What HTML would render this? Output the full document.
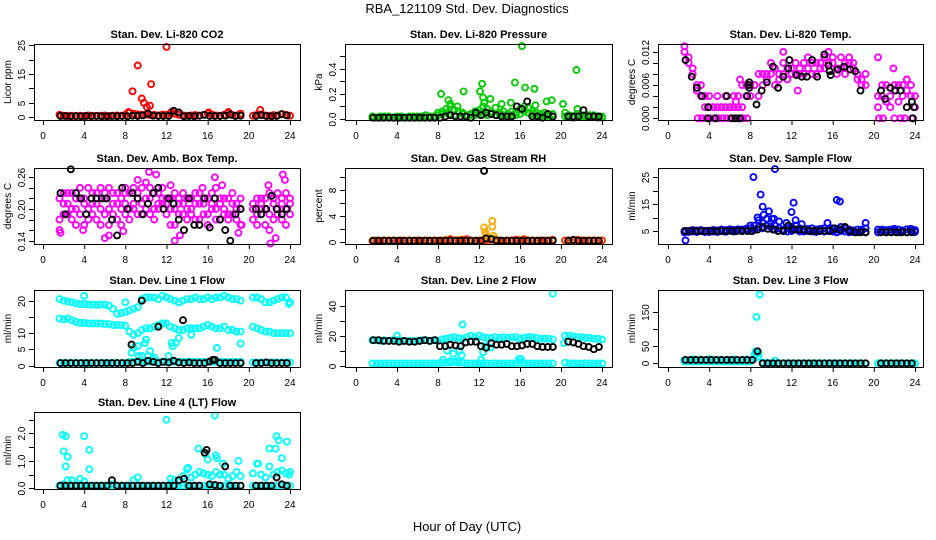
<!DOCTYPE html>
<html><head><meta charset="utf-8">
<style>
html,body{margin:0;padding:0;background:#fff;}
svg{display:block;font-family:"Liberation Sans",Arial,sans-serif;}
</style></head>
<body>
<svg id="chart" width="936" height="540" viewBox="0 0 936 540">
<text x="467" y="13" font-size="13" text-anchor="middle">RBA_121109  Std. Dev. Diagnostics</text>
<text x="467" y="531" font-size="13" text-anchor="middle">Hour of Day (UTC)</text>
</svg>
<script>
// shared time grids (hours UTC)
const T = [1.6,2.0,2.4,2.8,3.2,3.6,4.0,4.4,4.8,5.2,5.6,6.0,6.4,6.8,7.2,7.6,8.0,8.4,8.8,9.2,9.6,10.0,10.4,10.8,11.2,11.6,12.0,12.4,12.8,13.2,13.6,14.0,14.4,14.8,15.2,15.6,16.0,16.4,16.8,17.2,17.6,18.0,18.4,18.8,19.2,20.4,20.8,21.2,21.6,22.0,22.4,22.8,23.2,23.6,24.0];
const TB = [1.7,2.2,2.7,3.2,3.7,4.2,4.7,5.2,5.7,6.2,6.7,7.2,7.7,8.2,8.7,9.2,9.7,10.2,10.7,11.2,11.7,12.2,12.7,13.2,13.7,14.2,14.7,15.2,15.7,16.2,16.7,17.2,17.7,18.2,18.7,19.2,20.7,21.2,21.7,22.2,22.7,23.2,23.7];
const xTicks = [0,4,8,12,16,20,24];

// CO2
const co2Red = [0.8,0.5,0.4,0.5,0.3,0.5,0.4,0.6,0.5,0.4,0.5,0.6,0.4,0.5,0.6,0.5,0.8,1.5,1.2,1.0,0.8,0.9,0.7,0.8,0.6,0.9,0.8,1.5,1.2,0.8,0.6,0.5,0.6,0.7,0.5,0.8,1.3,0.9,0.6,0.5,0.8,1.4,0.7,0.6,1.2,0.5,0.8,1.0,0.6,0.5,0.7,0.6,1.1,0.8,0.5];
const co2OutX = [8.3,8.7,9.2,9.6,9.8,10.1,10.4,10.5,12.0,18.0,21.1,12.5,16.1];
const co2OutY = [1.8,9,18,6.5,5,3.5,4,11.5,24.5,1.8,2.5,1.8,1.6];
const co2Black = [0.4,0.4,0.3,0.4,0.3,0.4,0.3,0.4,0.3,0.3,0.4,0.3,0.4,0.3,0.5,0.4,0.6,1.2,0.5,0.4,0.4,0.4,2.2,1.6,0.3,0.4,0.3,0.5,0.8,0.4,0.4,0.4,0.5,0.9,0.4,0.5,0.4,0.7,0.4,0.3,0.4,1.0,0.6];

// Pressure
const prsA = [0.01,0.01,0.02,0.02,0.01,0.01,0.02,0.01,0.01,0.02,0.01,0.02,0.01,0.03,0.02,0.02,0.05,0.06,0.08,0.1,0.07,0.06,0.05,0.03,0.04,0.06,0.05,0.1,0.08,0.06,0.09,0.05,0.06,0.04,0.06,0.05,0.08,0.1,0.09,0.06,0.05,0.04,0.05,0.03,0.04,0.05,0.03,0.02,0.04,0.03,0.03,0.02,0.03,0.02,0.02];
const prsB = [0.02,0.01,0.01,0.01,0.02,0.01,0.01,0.02,0.01,0.01,0.02,0.01,0.02,0.01,0.01,0.01,0.03,0.04,0.05,0.04,0.03,0.06,0.04,0.02,0.03,0.03,0.07,0.04,0.03,0.04,0.03,0.04,0.03,0.02,0.03,0.03,0.04,0.06,0.05,0.04,0.03,0.02,0.03,0.02,0.02,0.02,0.02,0.01,0.03,0.02,0.02,0.03,0.02,0.01,0.01];
const prsOutX = [8.3,9.0,10.5,12.1,12.3,12.4,13.1,14.2,15.1,15.5,16.2,16.5,17.4,17.5,18.6,19.1,20.2,21.5,21.6,9.2,12.5,9.9];
const prsOutY = [0.2,0.15,0.22,0.22,0.28,0.17,0.16,0.12,0.13,0.29,0.58,0.25,0.24,0.11,0.14,0.15,0.12,0.39,0.08,0.12,0.13,0.1];
const prsBlack = [0.01,0.01,0.01,0.01,0.01,0.01,0.01,0.01,0.01,0.01,0.01,0.01,0.01,0.01,0.02,0.03,0.02,0.02,0.02,0.01,0.05,0.03,0.05,0.04,0.03,0.02,0.02,0.02,0.1,0.08,0.14,0.02,0.02,0.01,0.04,0.02,0.02,0.02,0.02,0.07,0.02,0.02,0.02];

// Li-820 Temp
const tmpA = [0.012,0.011,0.009,0.006,0.004,0.004,0.002,0.002,0.002,0.002,0.002,0.002,0.004,0.004,0.006,0.006,0.006,0.006,0.008,0.008,0.008,0.010,0.009,0.008,0.010,0.009,0.008,0.010,0.009,0.010,0.011,0.010,0.010,0.009,0.011,0.012,0.010,0.009,0.011,0.010,0.010,0.009,0.008,0.007,0.006,0.004,0.004,0.006,0.004,0.006,0.006,0.006,0.007,0.006,0.004];
const tmpB = [0.013,0.010,0.008,0.005,0.006,0.002,0.004,0.002,0.004,0.002,0.004,0.002,0.002,0.002,0.002,0.004,0.004,0.006,0.004,0.006,0.007,0.008,0.006,0.007,0.008,0.007,0.009,0.008,0.008,0.008,0.009,0.008,0.008,0.010,0.009,0.010,0.011,0.008,0.009,0.008,0.011,0.010,0.007,0.006,0.008,0.002,0.006,0.003,0.002,0.005,0.003,0.004,0.005,0.004,0.002];
const tmpOutX = [2.9,3.3,3.7,4.1,4.5,4.9,5.3,5.7,6.1,6.5,6.9,7.3,7.7,20.5,20.9,22.0,22.6,23.0,23.7,6.6,20.4,21.9,23.2,11.2,12.6,7.0];
const tmpOutY = [0,0,0,0,0,0,0,0,0,0,0,0,0,0,0,0,0,0,0,0.003,0.011,0.009,0.007,0.012,0.005,0.007];
const tmpBlackX = [1.7,2.3,2.8,3.3,3.9,3.9,4.6,5.7,6.2,6.6,7.0,7.7,7.8,7.9,7.9,8.6,9.1,9.6,10.2,10.7,11.2,11.7,11.8,12.5,13.0,13.5,14.0,14.5,15.2,15.6,15.7,15.8,16.5,17.1,17.7,18.2,18.7,20.7,21.1,21.6,22.1,22.6,23.2,23.7,23.8,23.9];
const tmpBlackY = [0.0105,0.0075,0.0055,0.004,0.002,0,0,0.004,0,0,0,0.004,0.006,0.0065,0.0055,0.0025,0.005,0.0065,0.0093,0.0055,0.0075,0.009,0.0105,0.0078,0.0075,0.0075,0.0105,0.0075,0.0115,0.0095,0.0085,0.0078,0.0088,0.0093,0.0088,0.0085,0.005,0.005,0.0035,0.0055,0.005,0.005,0.002,0.003,0,0.002];

// Amb box temp
const ambA = [0.22,0.21,0.19,0.23,0.20,0.22,0.17,0.24,0.21,0.23,0.20,0.22,0.24,0.19,0.21,0.22,0.23,0.20,0.24,0.22,0.21,0.25,0.22,0.20,0.23,0.21,0.22,0.20,0.23,0.19,0.21,0.22,0.20,0.23,0.21,0.19,0.22,0.20,0.24,0.21,0.20,0.22,0.19,0.21,0.20,0.21,0.19,0.22,0.20,0.23,0.21,0.19,0.22,0.20,0.21];
const ambB = [0.18,0.23,0.21,0.18,0.22,0.19,0.21,0.20,0.23,0.18,0.24,0.19,0.20,0.23,0.18,0.20,0.19,0.23,0.21,0.19,0.24,0.20,0.19,0.23,0.20,0.24,0.19,0.22,0.17,0.22,0.19,0.20,0.22,0.18,0.23,0.21,0.19,0.23,0.20,0.18,0.22,0.19,0.23,0.18,0.22,0.18,0.22,0.20,0.17,0.19,0.22,0.20,0.18,0.23,0.19];
const ambC = [0.16,0.19,0.23,0.20,0.17,0.24,0.22,0.18,0.19,0.21,0.17,0.23,0.17,0.21,0.23,0.17,0.21,0.18,0.20,0.23,0.19,0.22,0.24,0.18,0.21,0.22,0.21,0.17,0.20,0.21,0.23,0.18,0.19,0.21,0.18,0.22,0.17,0.21,0.18,0.22,0.19,0.18,0.21,0.20,0.17,0.20,0.17,0.21,0.22,0.16,0.18,0.23,0.21,0.17,0.22];
const ambOutX = [1.7,3.9,6.0,6.4,7.8,9.2,10.3,11.0,12.4,12.8,13.3,16.7,17.4,19.0,22.1,22.6,23.3,23.5,8.0,15.5,19.3,21.9];
const ambOutY = [0.155,0.16,0.145,0.15,0.158,0.255,0.27,0.265,0.245,0.14,0.15,0.26,0.245,0.155,0.135,0.145,0.265,0.255,0.24,0.24,0.17,0.245];
const ambBlack = [0.23,0.19,0.275,0.23,0.22,0.19,0.22,0.22,0.22,0.22,0.18,0.15,0.24,0.2,0.23,0.22,0.19,0.21,0.23,0.24,0.2,0.22,0.21,0.18,0.16,0.22,0.17,0.17,0.22,0.165,0.22,0.18,0.16,0.14,0.19,0.20,0.2,0.19,0.2,0.225,0.2,0.19,0.2];

// Gas stream RH
const rhOrange = [0.3,0.3,0.3,0.3,0.3,0.3,0.3,0.3,0.3,0.3,0.3,0.3,0.3,0.3,0.3,0.3,0.3,0.3,0.4,0.3,0.3,0.4,0.3,0.4,0.3,0.3,0.3,0.4,0.5,0.4,0.5,0.3,0.3,0.3,0.3,0.3,0.4,0.3,0.3,0.3,0.3,0.3,0.3,0.3,0.3,0.3,0.3,0.3,0.4,0.3,0.3,0.3,0.3,0.3,0.3];
const rhRed = [0.2,0.3,0.2,0.3,0.2,0.3,0.2,0.3,0.2,0.3,0.2,0.3,0.2,0.3,0.2,0.3,0.2,0.3,0.3,0.5,0.3,0.3,0.4,0.5,0.3,0.2,0.3,0.3,0.3,0.4,0.3,0.3,0.2,0.3,0.3,0.4,0.3,0.5,0.3,0.3,0.2,0.3,0.3,0.3,0.4,0.3,0.3,0.3,0.4,0.3,0.3,0.3,0.3,0.3,0.3];
const rhOutX = [12.5,12.6,12.7,13.3,13.3,13.4,12.8,13.6];
const rhOutY = [2.3,1.6,1.2,3.3,2.4,1.0,0.8,0.6];
const rhBlack = [0.25,0.25,0.25,0.25,0.25,0.25,0.25,0.25,0.25,0.25,0.25,0.25,0.25,0.25,0.25,0.25,0.25,0.25,0.25,0.25,0.25,0.25,0.6,0.5,0.3,0.25,0.25,0.25,0.25,0.25,0.25,0.25,0.25,0.25,0.25,0.25,0.25,0.35,0.25,0.25,0.25,0.25,0.25];
const rhBlackOutX = [12.5];
const rhBlackOutY = [11];

// Sample flow
const sfA = [5,5,4.8,5.2,4.9,5,5.1,4.8,5.2,5,5.3,5.1,5.4,5.2,5.5,5.3,6,7,6.5,8,7,6.5,7,6,5.5,6,6.5,7,6,5.5,5.8,6,5.5,5.8,6,5.5,6,5.5,5,6,5.5,5.2,5.5,5,6,5.5,5,5.3,5.5,5,5.5,5.2,5.6,5,5.3];
const sfB = [4.5,4.6,5.3,4.6,5.3,4.6,4.6,5.4,4.6,5.5,4.7,5.6,4.8,5.6,4.9,5.8,5,5.5,9,6,9.5,8,5.5,8.5,5,4.8,5,5.5,4.8,4.8,5,4.8,4.6,5,4.8,5,4.8,4.5,6.5,4.8,4.5,4.6,4.5,5.5,4.5,4.5,5.5,4.5,4.6,5.8,4.5,4.8,4.5,5.8,4.6];
const sfOutX = [1.7,8.3,8.7,9.0,9.2,9.3,9.8,10.1,10.4,12.0,12.2,12.4,16.4,16.7,19.2,15.5,11.5,8.0,10.3,13.0];
const sfOutY = [1.5,25,10,18.5,14,11,12.3,9.5,28,12,15.5,9,16.5,16,8,8,8,7,9.5,7.5];
const sfBlack = [5,5,5,5,5,5,5,5,5,5,5,5,5,5,5.5,6.5,5.8,5.5,5,5,7,5.5,5.5,5.5,5,5,5,5,5,6,5.5,6.5,5,4.5,4.5,4.5,4.5,4.5,4.5,4.5,4.5,4.5,4.5];

// Line 1 flow
const l1Top = [20.5,20,19.8,19.5,19.2,19,19,18.8,18.8,18.7,18.8,18.8,18.5,17.5,16,16.2,16.5,17,17.5,18,20.5,21,21,21,20.5,21.5,21,20.5,20,19.5,20,20.5,20.5,21,20.5,20.5,21,20.5,21,21,21.5,21,20.5,20.5,20,21,21,20.5,19.5,19.5,20,20.5,21,21,19.5];
const l1Mid = [14.5,14.3,14.5,14,13.5,13.2,13.2,13,13,13,13,12.8,12.8,12.5,12.5,12.5,12.3,10.5,9.5,10,11,11.5,11.5,12,12.5,13,13,12,11.5,11,11,11.5,11.5,11.5,11.5,12,12.5,12,11.5,11.5,12,11,11,10.5,10.5,12,11.5,11,10.5,10.5,10,10,10,10,10];
const l1Low = [0.8,0.8,0.8,0.8,0.8,0.8,0.8,0.8,0.8,0.8,0.8,0.8,0.8,0.8,0.8,0.8,0.8,1.2,1.2,1.2,1.2,1.2,1.2,1.2,1.2,1.2,1.2,1.2,1.2,1.2,1.2,1.2,1.2,1.2,1.2,1.2,1.2,1.2,1.2,1.2,1.2,1.2,1.2,1.2,1.2,1.0,1.0,1.0,1.0,1.0,1.0,1.0,1.0,1.0,1.0];
const l1OutX = [4.0,8.0,8.8,9.2,9.3,9.6,9.9,10.0,10.2,10.4,10.8,11.7,12.2,12.5,12.6,12.9,13.2,14.4,16.9,19.2,23.9,8.6,10.6];
const l1OutY = [21.5,19.5,5.5,6,3,3,7,8,3,4.5,2.5,13,3,7,6,7,8.5,9.5,5.5,6.8,19,4,2];
const l1Black = [0.8,0.8,0.8,0.8,0.8,0.8,0.8,0.8,0.8,0.8,0.8,0.8,0.8,0.8,0.8,1.2,0.8,1.5,1.2,0.8,1.2,1.0,1.5,1.0,0.8,1.0,0.8,0.8,0.8,1.3,1.8,0.8,0.8,0.8,0.8,0.8,0.8,0.8,1.0,0.8,0.8,0.8,0.8];
const l1BlackOutX = [8.6,9.6,11.2,13.6,16.5];
const l1BlackOutY = [6.5,20,12,14,1.8];

// Line 2 flow
const l2Top = [17,17,16.5,17,16.5,17,17,16.5,16.5,16.5,16.5,16.5,17,17,16.5,17,16.5,17.5,18,18.5,19,18.5,18,19,20,19,20,19,18.5,18.5,19,18.5,19,18.5,19,19,18,18.5,19,19,18.5,18,18,18,17.5,20,20,19.5,19,19,18.5,18.5,18,18,17.5];
const l2Low = [1.5,1.5,1.5,1.5,1.5,1.5,1.5,1.5,1.5,1.5,1.5,1.5,1.5,1.5,1.5,1.5,1.5,2,2,2,2.5,2,2,1.5,1.5,1.5,1.5,1.5,1.5,1.5,1.5,1.5,1.5,1.5,1.5,1.5,2,1.5,1.5,1.5,1.5,1.5,1.5,1.5,1.5,2,1.5,1.5,1.5,1.5,1.5,1.5,1.5,1.5,1.5];
const l2OutX = [4.0,8.5,8.9,9.2,9.5,9.8,10.1,10.3,10.4,12.2,12.4,15.9,16.1,19.2,12.6,13.1,20.3];
const l2OutY = [20,4,10,3,8,3,10,7,27.5,4,9,4.5,4.5,48,13,12,15];
const l2Black = [17,17,16.5,16.5,16.5,16,16.5,16,16,16.5,17,16.5,17,13,13,14,13.5,13,15.5,16,16,13,12,15,14,14,14.5,13,13,13.5,14.5,14.5,13,12.5,12.5,12.5,16,15.5,14.5,13,12.5,11,12.5];

// Line 3 flow
const l3A = [10,8,12,9,11,8,12,10,9,11,8,10,12,9,10,11,8,25,30,2,1,0,8,0,0,0,0,0,0,0,0,0,0,0,0,0,0,0,0,0,0,0,0,0,0,0,0,0,0,0,0,0,0,0,0];
const l3B = [5,5,5,5,5,5,5,5,5,5,5,5,5,5,5,5,5,15,20,0,0,0,0,0,0,0,0,0,0,0,0,0,0,0,0,0,0,0,0,0,0,0,0,0,0,0,0,0,0,0,0,0,0,0,0];
const l3OutX = [8.6,8.9,8.5];
const l3OutY = [135,200,35];
const l3Black = [10,10,10,10,10,10,10,10,10,10,10,10,10,10,35,0,0,0,0,0,0,0,0,0,0,0,0,0,0,0,0,0,0,0,0,0,0,0,0,0,0,0,0];

// Line 4 (LT) flow
const l4A = [0.1,0.1,0.1,0.1,0.1,0.1,0.1,0.1,0.1,0.1,0.1,0.1,0.1,0.1,0.1,0.1,0.1,0.1,0.1,0.1,0.1,0.1,0.1,0.1,0.1,0.1,0.1,0.1,0.1,0.1,0.1,0.1,0.1,0.1,0.1,0.1,0.1,0.1,0.1,0.1,0.1,0.1,0.1,0.1,0.1,0.1,0.1,0.1,0.1,0.1,0.1,0.1,0.1,0.1,0.1];
const l4B = [0.1,0.15,0.3,0.3,0.1,0.35,0.25,0.1,0.1,0.1,0.1,0.1,0.1,0.15,0.1,0.1,0.1,0.1,0.3,0.4,0.1,0.1,0.1,0.1,0.1,0.1,0.1,0.35,0.3,0.25,0.45,0.7,0.4,0.5,0.6,0.55,0.5,0.45,0.6,0.5,0.5,0.35,0.45,0.6,0.45,0.55,0.9,0.5,0.4,0.8,0.5,0.6,0.65,0.55,0.6];
const l4OutX = [1.9,2.0,2.2,2.2,2.4,4.0,4.5,4.5,12.0,15.1,15.8,16.0,16.7,16.8,16.9,19.0,17.5,22.0,22.6,22.7,22.9,23.2,23.7,23.9,20.9,14.1];
const l4OutY = [1.95,1.35,1.9,0.8,1.15,1.9,1.4,0.7,2.5,1.45,1.25,1.05,2.65,1.2,1.1,1.0,0.9,1.45,1.45,1.9,1.75,1.1,1.7,0.5,0.9,0.75];
const l4Black = [0.1,0.1,0.1,0.1,0.1,0.1,0.1,0.1,0.1,0.1,0.3,0.1,0.1,0.1,0.1,0.1,0.1,0.1,0.1,0.1,0.1,0.1,0.1,0.3,0.35,0.1,0.1,0.1,1.3,0.15,0.12,0.1,0.8,0.1,0.1,0.1,0.1,0.1,0.1,0.1,0.4,0.15,0.1];
const l4BlackOutX = [15.9];
const l4BlackOutY = [1.4];

// ---------- rendering ----------
const NS = "http://www.w3.org/2000/svg";
const svg = document.getElementById('chart');
const colL = [34,345,658], colR = [300,612,923], colX0 = [43,356,668], colX24 = [290,602,915];
const rowT = [44,168,290,412], rowB = [120,244,367,489];
const CY = "#00ffff", MG = "#ff00ff";

const panels = [
 {slug:'co2', title:'Stan. Dev. Li-820 CO2', ylab:'Licor ppm', r:0,c:0, dom:[-1,25.5], ticks:[0,5,10,15,20,25], labs:['0','5','','15','','25'],
  series:[[T,co2Red,'red'],[co2OutX,co2OutY,'red'],[TB,co2Black,'#000']]},
 {slug:'pressure', title:'Stan. Dev. Li-820 Pressure', ylab:'kPa', r:0,c:1, dom:[-0.008,0.597], ticks:[0,0.1,0.2,0.3,0.4,0.5], labs:['0.0','','0.2','','0.4',''],
  series:[[T,prsA,'#00cc00'],[T,prsB,'#00cc00'],[prsOutX,prsOutY,'#00cc00'],[TB,prsBlack,'#000']]},
 {slug:'licor-temp', title:'Stan. Dev. Li-820 Temp.', ylab:'degrees C', r:0,c:2, dom:[-0.0003,0.0134], ticks:[0,0.002,0.004,0.006,0.008,0.010,0.012], labs:['0.000','','','0.006','','','0.012'],
  series:[[T,tmpA,MG],[T,tmpB,MG],[tmpOutX,tmpOutY,MG],[tmpBlackX,tmpBlackY,'#000']]},
 {slug:'amb-temp', title:'Stan. Dev. Amb. Box Temp.', ylab:'degrees C', r:1,c:0, dom:[0.1338,0.2775], ticks:[0.14,0.16,0.18,0.20,0.22,0.24,0.26], labs:['0.14','','','0.20','','','0.26'],
  series:[[T,ambA,MG],[T,ambB,MG],[T,ambC,MG],[ambOutX,ambOutY,MG],[TB,ambBlack,'#000']]},
 {slug:'rh', title:'Stan. Dev. Gas Stream RH', ylab:'percent', r:1,c:1, dom:[-0.26,11.45], ticks:[0,2,4,6,8,10], labs:['0','','4','','8',''],
  series:[[T,rhOrange,'#ffcc00'],[T,rhRed,'#ff3300'],[rhOutX,rhOutY,'#ffaa00'],[TB,rhBlack,'#000'],[rhBlackOutX,rhBlackOutY,'#000']]},
 {slug:'sample-flow', title:'Stan. Dev. Sample Flow', ylab:'ml/min', r:1,c:2, dom:[0.15,28.4], ticks:[5,10,15,20,25], labs:['5','','15','','25'],
  series:[[T,sfA,'#0000ff'],[T,sfB,'#0000ff'],[sfOutX,sfOutY,'#0000ff'],[TB,sfBlack,'#000']]},
 {slug:'line1', title:'Stan. Dev. Line 1 Flow', ylab:'ml/min', r:2,c:0, dom:[-0.4,23.3], ticks:[0,5,10,15,20], labs:['0','5','10','','20'],
  series:[[T,l1Top,CY],[T,l1Mid,CY],[T,l1Low,CY],[l1OutX,l1OutY,CY],[TB,l1Black,'#000'],[l1BlackOutX,l1BlackOutY,'#000']]},
 {slug:'line2', title:'Stan. Dev. Line 2 Flow', ylab:'ml/min', r:2,c:1, dom:[-0.9,50.5], ticks:[0,10,20,30,40], labs:['0','','20','','40'],
  series:[[T,l2Top,CY],[T,l2Low,CY],[l2OutX,l2OutY,CY],[TB,l2Black,'#000']]},
 {slug:'line3', title:'Stan. Dev. Line 3 Flow', ylab:'ml/min', r:2,c:2, dom:[-10.6,213], ticks:[0,50,100,150], labs:['0','50','','150'],
  series:[[T,l3A,CY],[T,l3B,CY],[l3OutX,l3OutY,CY],[TB,l3Black,'#000']]},
 {slug:'line4', title:'Stan. Dev. Line 4 (LT) Flow', ylab:'ml/min', r:3,c:0, dom:[-0.02,2.78], ticks:[0,0.5,1.0,1.5,2.0,2.5], labs:['0.0','','1.0','','2.0',''],
  series:[[T,l4A,CY],[T,l4B,CY],[l4OutX,l4OutY,CY],[TB,l4Black,'#000'],[l4BlackOutX,l4BlackOutY,'#000']]}
];

function mk(tag, attrs, parent){
  const e = document.createElementNS(NS, tag);
  for (const k in attrs) e.setAttribute(k, attrs[k]);
  (parent||svg).appendChild(e);
  return e;
}

panels.forEach(p => {
  const L = colL[p.c], R = colR[p.c], top = rowT[p.r], bot = rowB[p.r];
  const x0 = colX0[p.c], x24 = colX24[p.c];
  const xs = v => x0 + (v/24)*(x24-x0);
  const ys = v => bot - (v - p.dom[0])/(p.dom[1]-p.dom[0])*(bot-top);

  const g = mk('g', {});
  
  

  const t = mk('text', {x:(L+R)/2, y:top-6, 'font-size':11, 'font-weight':'bold', 'text-anchor':'middle'}, g);
  t.textContent = p.title;
  
  

  const yl = mk('text', {x:0, y:0, 'font-size':10, 'text-anchor':'middle', transform:`translate(${L-23},${(top+bot)/2}) rotate(-90)`}, g);
  yl.textContent = p.ylab;
  
  

  const pg = mk('g', {fill:'none', 'stroke-width':1.9}, g);
  
  
  p.series.forEach(s => {
    const X = s[0], Y = s[1];
    for (let i=0;i<Y.length && i<X.length;i++){
      const cpt = mk('circle', {cx:xs(X[i]).toFixed(1), cy:ys(Y[i]).toFixed(1), r:3.0, stroke:s[2]}, pg);
      
      
    }
  });

  const box = mk('rect', {x:L+0.5, y:top+0.5, width:R-L, height:bot-top, fill:'none', stroke:'#000', 'stroke-width':1}, g);
  
  

  const xa = mk('g', {}, g);
  
  
  mk('line', {x1:xs(0), x2:xs(24), y1:bot+0.5, y2:bot+0.5, stroke:'#000'}, xa);
  xTicks.forEach(v => {
    mk('line', {x1:xs(v)+0.5, x2:xs(v)+0.5, y1:bot, y2:bot+5, stroke:'#000'}, xa);
    const tl = mk('text', {x:xs(v), y:bot+19, 'font-size':10, 'text-anchor':'middle'}, xa);
    tl.textContent = String(v);
    
    
  });

  const ya = mk('g', {}, g);
  
  
  p.ticks.forEach((v,i) => {
    const yy = Math.round(ys(v))+0.5;
    mk('line', {x1:L-5, x2:L, y1:yy, y2:yy, stroke:'#000'}, ya);
    if (p.labs[i]) {
      const tl = mk('text', {x:0, y:0, 'font-size':10, 'text-anchor':'middle', transform:`translate(${L-9},${yy}) rotate(-90)`}, ya);
      tl.textContent = p.labs[i];
      
      
    }
  });
});
</script>
</body></html>
